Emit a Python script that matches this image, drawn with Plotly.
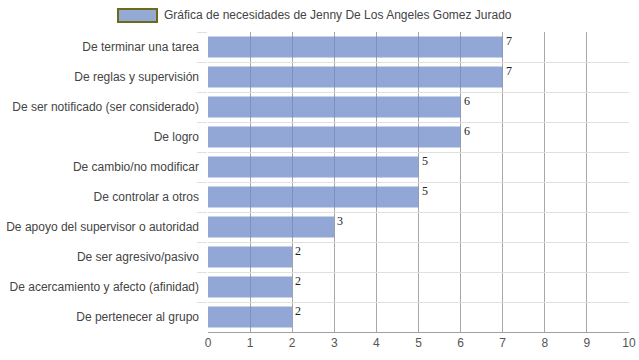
import plotly.graph_objects as go

categories = [
    "De terminar una tarea",
    "De reglas y supervisión",
    "De ser notificado (ser considerado)",
    "De logro",
    "De cambio/no modificar",
    "De controlar a otros",
    "De apoyo del supervisor o autoridad",
    "De ser agresivo/pasivo",
    "De acercamiento y afecto (afinidad)",
    "De pertenecer al grupo",
]
values = [7, 7, 6, 6, 5, 5, 3, 2, 2, 2]
x_ticks = list(range(0, 11))
series_name = "Gráfica de necesidades de Jenny De Los Angeles Gomez Jurado"

BAR = "rgba(110,137,199,0.75)"

fig = go.Figure(go.Bar(
    x=values, y=categories, orientation="h",
    marker=dict(color=BAR, line=dict(width=0)),
    name=series_name, showlegend=False, hoverinfo="x+y",
))

annotations = []
for c, v in zip(categories, values):
    annotations.append(dict(
        x=v, y=c, xref="x", yref="y", text=str(v), showarrow=False,
        xanchor="left", yanchor="middle", xshift=1, yshift=6,
        font=dict(family="Liberation Serif, Times New Roman, serif", size=12, color="#222222"),
    ))

# custom legend
W, H = 421.0, 300.0
def px(x):
    return (x - 208) / W
def py(y):
    return (332 - y) / H

annotations.append(dict(
    x=px(162), y=py(15), xref="paper", yref="paper", text=series_name,
    showarrow=False, xanchor="left", yanchor="middle",
    font=dict(family="Liberation Sans", size=12, color="#444444"),
))
shapes = [dict(
    type="rect", xref="paper", yref="paper",
    x0=px(118), x1=px(157), y0=py(22), y1=py(9),
    fillcolor="#95a9d5", line=dict(color="#6b6b1a", width=2),
)]

fig.update_layout(
    width=639, height=360,
    margin=dict(l=208, r=10, t=32, b=28, autoexpand=False),
    paper_bgcolor="white", plot_bgcolor="white",
    bargap=0.3,
    font=dict(family="Liberation Sans", size=12, color="#444444"),
    annotations=annotations, shapes=shapes,
    xaxis=dict(
        range=[0, 10], tickvals=x_ticks, showgrid=True,
        gridcolor="#a8a8a8", gridwidth=1, zeroline=False,
        showline=True, linecolor="#a0a0a0", linewidth=1,
        ticks="", tickfont=dict(size=12, color="#555555"),
        automargin=False, fixedrange=True,
    ),
    yaxis=dict(
        autorange="reversed", type="category",
        tickson="boundaries", ticks="outside", ticklen=10,
        tickcolor="#e0e0e0", showgrid=True, gridcolor="#e0e0e0",
        showline=False, zeroline=False, ticklabelstandoff=8,
        tickfont=dict(size=12, color="#444444"),
        automargin=False,
    ),
)

fig.write_html(
    "out.html",
    config={"displayModeBar": False},
    post_script="document.body.style.margin='0';document.body.style.overflow='hidden';",
)
